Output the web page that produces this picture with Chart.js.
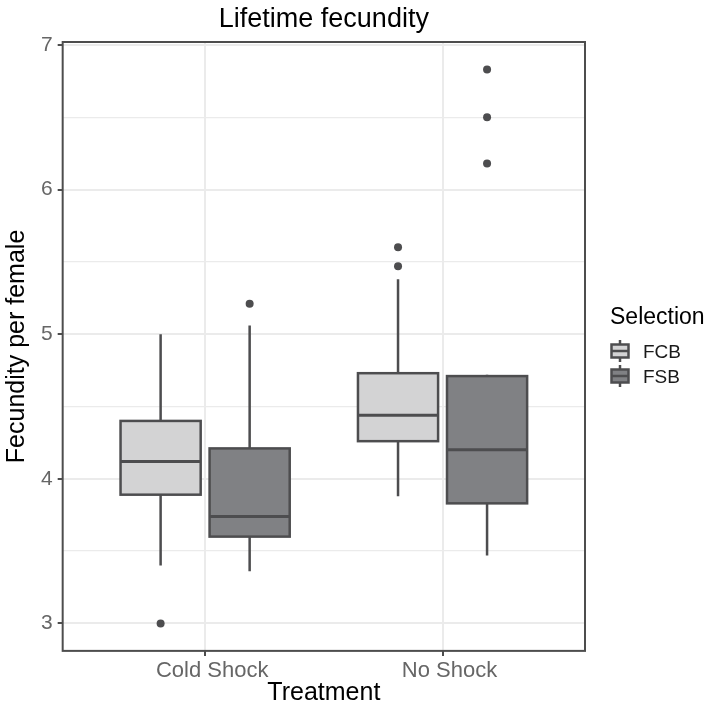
<!DOCTYPE html>
<html>
<head>
<meta charset="utf-8">
<script src="https://cdn.jsdelivr.net/npm/chart.js@4.4.1/dist/chart.umd.min.js"></script>
<style>
html,body{margin:0;padding:0;background:#fff;}
#wrap{width:712px;height:712px;}
</style>
</head>
<body>
<div id="wrap"><canvas id="c" width="712" height="712"></canvas></div>
<script>
// ---- data ----
const categories = ['Cold Shock', 'No Shock'];
const groups = ['FCB', 'FSB'];
const yTicks = [3, 3.5, 4, 4.5, 5, 5.5, 6, 6.5, 7];

const fcbLow  = [3.40, 3.88];
const fcbQ1   = [3.89, 4.26];
const fcbMed  = [4.12, 4.44];
const fcbQ3   = [4.40, 4.73];
const fcbHigh = [5.00, 5.38];
const fcbOutliers = [[3.00], [5.47, 5.60]];

const fsbLow  = [3.36, 3.47];
const fsbQ1   = [3.60, 3.83];
const fsbMed  = [3.74, 4.20];
const fsbQ3   = [4.21, 4.71];
const fsbHigh = [5.06, 4.72];
const fsbOutliers = [[5.21], [6.18, 6.50, 6.83]];

// ---- styling ----
const FONT = "'Liberation Sans', Arial, Helvetica, sans-serif";
const fills = ['#d3d3d4', '#808184'];
const strokeCol = '#4d4d4f';
const dodge = 0.1875;
const halfW = 0.16875;

const stats = [
  {low: fcbLow, q1: fcbQ1, med: fcbMed, q3: fcbQ3, high: fcbHigh, out: fcbOutliers},
  {low: fsbLow, q1: fsbQ1, med: fsbMed, q3: fsbQ3, high: fsbHigh, out: fsbOutliers}
];
const offsets = [-dodge, dodge];

function outlierData(g) {
  const pts = [];
  stats[g].out.forEach((arr, i) => arr.forEach(v => pts.push({x: i + 1 + offsets[g], y: v})));
  return pts;
}

const boxPlugin = {
  id: 'boxes',
  beforeDatasetsDraw(chart) {
    const {ctx, scales: {x, y}} = chart;
    ctx.save();
    ctx.strokeStyle = strokeCol;
    stats.forEach((s, g) => {
      categories.forEach((cat, i) => {
        const xc = x.getPixelForValue(i + 1 + offsets[g]);
        const xl = x.getPixelForValue(i + 1 + offsets[g] - halfW);
        const xr = x.getPixelForValue(i + 1 + offsets[g] + halfW);
        const yLow = y.getPixelForValue(s.low[i]);
        const yQ1 = y.getPixelForValue(s.q1[i]);
        const yMed = y.getPixelForValue(s.med[i]);
        const yQ3 = y.getPixelForValue(s.q3[i]);
        const yHigh = y.getPixelForValue(s.high[i]);
        ctx.lineWidth = 2.5;
        ctx.beginPath();
        ctx.moveTo(xc, yHigh); ctx.lineTo(xc, yQ3);
        ctx.moveTo(xc, yQ1); ctx.lineTo(xc, yLow);
        ctx.stroke();
        ctx.fillStyle = fills[g];
        ctx.fillRect(xl, yQ3, xr - xl, yQ1 - yQ3);
        ctx.strokeRect(xl, yQ3, xr - xl, yQ1 - yQ3);
        ctx.lineWidth = 3;
        ctx.beginPath(); ctx.moveTo(xl, yMed); ctx.lineTo(xr, yMed); ctx.stroke();
      });
    });
    ctx.restore();
  },
  afterDatasetsDraw(chart) {
    const {ctx, chartArea: a} = chart;
    ctx.save();
    // panel border
    ctx.strokeStyle = '#4d4d4d';
    ctx.lineWidth = 2;
    ctx.strokeRect(a.left, a.top, a.right - a.left, a.bottom - a.top);
    // title centred over the panel
    ctx.fillStyle = '#000';
    ctx.font = '27px ' + FONT;
    ctx.textAlign = 'center';
    ctx.textBaseline = 'alphabetic';
    ctx.fillText('Lifetime fecundity', (a.left + a.right) / 2, 27);
    // legend
    ctx.textAlign = 'left';
    ctx.font = '23px ' + FONT;
    ctx.fillStyle = '#000';
    ctx.fillText('Selection', 610, 324);
    ctx.font = '19px ' + FONT;
    groups.forEach((name, g) => {
      const cy = 351 + g * 25;
      const cx = 620;
      ctx.strokeStyle = strokeCol;
      ctx.lineWidth = 2.5;
      ctx.beginPath(); ctx.moveTo(cx, cy - 11); ctx.lineTo(cx, cy + 11); ctx.stroke();
      ctx.fillStyle = fills[g];
      ctx.fillRect(cx - 8.5, cy - 6.5, 17, 13);
      ctx.strokeRect(cx - 8.5, cy - 6.5, 17, 13);
      ctx.beginPath(); ctx.moveTo(cx - 8.5, cy); ctx.lineTo(cx + 8.5, cy); ctx.stroke();
      ctx.fillStyle = '#1a1a1a';
      ctx.fillText(name, 643, cy + 7);
    });
    ctx.restore();
  }
};

const isInt = v => Math.abs(v - Math.round(v)) < 1e-6;

new Chart(document.getElementById('c'), {
  type: 'scatter',
  data: {
    datasets: groups.map((name, g) => ({
      label: name,
      data: outlierData(g),
      pointRadius: 4,
      pointHoverRadius: 4,
      pointBackgroundColor: '#4d4d4f',
      pointBorderColor: '#4d4d4f',
      pointBorderWidth: 0
    }))
  },
  options: {
    responsive: false,
    animation: false,
    events: [],
    layout: {padding: {top: 42, left: 2, right: 127, bottom: 11}},
    plugins: {
      title: {display: false},
      tooltip: {enabled: false},
      legend: {display: false}
    },
    scales: {
      x: {
        type: 'linear',
        min: 0.4,
        max: 2.6,
        afterBuildTicks: s => { s.ticks = categories.map((c, i) => ({value: i + 1})); },
        ticks: {
          callback: v => categories[Math.round(v) - 1] || '',
          color: '#666',
          font: {family: FONT, size: 22, lineHeight: 0.96},
          padding: 4,
          labelOffset: 7,
          maxRotation: 0
        },
        grid: {color: '#ebebeb', lineWidth: 2, tickColor: '#4d4d4d', tickLength: 5, tickWidth: 2},
        border: {display: false},
        title: {display: true, text: 'Treatment', color: '#000', font: {family: FONT, size: 25, lineHeight: 0.64}, padding: {top: 0, bottom: 0}}
      },
      y: {
        type: 'linear',
        min: 2.81,
        max: 7.02,
        afterBuildTicks: s => { s.ticks = yTicks.map(v => ({value: v})); },
        ticks: {
          callback: v => isInt(v) ? String(v) : '',
          color: '#666',
          font: {family: FONT, size: 21},
          padding: 5,
          autoSkip: false
        },
        grid: {
          color: '#ebebeb',
          lineWidth: c => isInt(c.tick.value) ? 2 : 1.2,
          tickColor: c => isInt(c.tick.value) ? '#4d4d4d' : 'rgba(0,0,0,0)',
          tickLength: 5,
          tickWidth: 2
        },
        border: {display: false},
        title: {display: true, text: 'Fecundity per female', color: '#000', font: {family: FONT, size: 25}, padding: {top: 0, bottom: 4}}
      }
    }
  },
  plugins: [boxPlugin]
});
</script>
</body>
</html>
